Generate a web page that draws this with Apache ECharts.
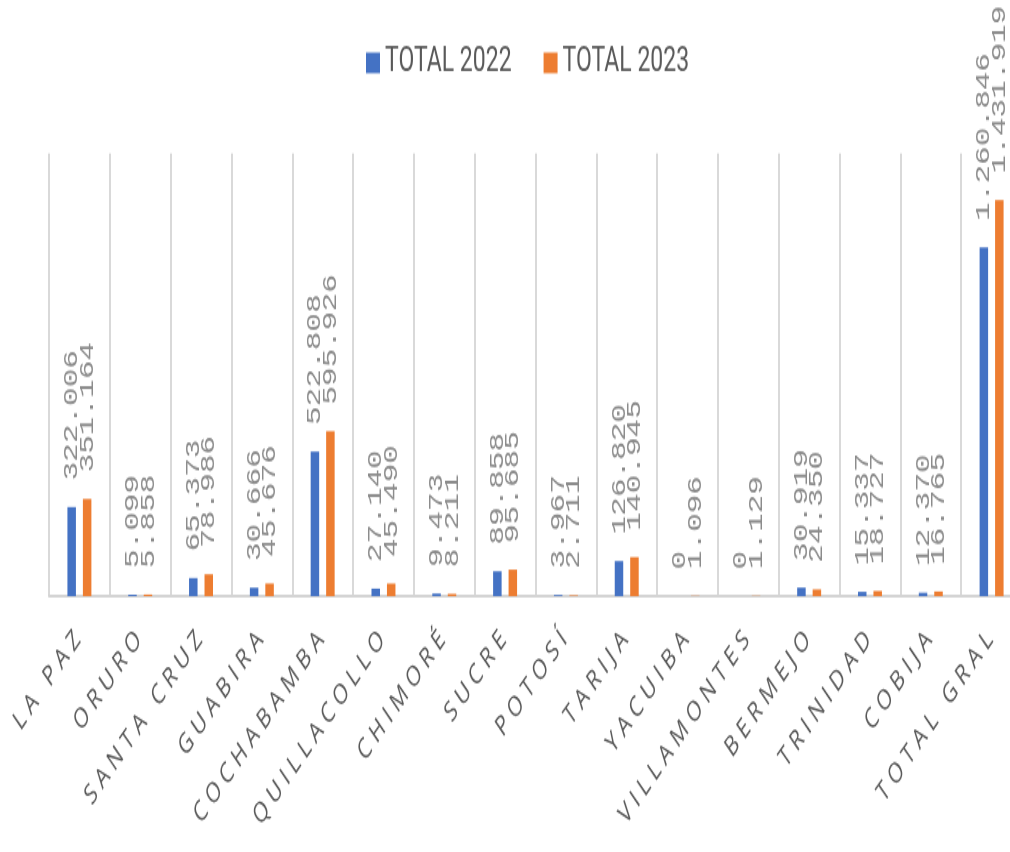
<!DOCTYPE html>
<html>
<head>
<meta charset="utf-8">
<script src="https://cdn.jsdelivr.net/npm/echarts@6/dist/echarts.min.js"></script>
<style>
html { margin: 0; padding: 0; background: #ffffff; overflow: hidden; }
body { margin: 0; padding: 0; background: #ffffff; width: 1010px; height: 852px; }
#c { width: 1010px; height: 576px; transform: scaleY(1.479167); transform-origin: 0 0; }
</style>
</head>
<body>
<div id="c"></div>
<script>
const categories = ['LA PAZ', 'ORURO', 'SANTA CRUZ', 'GUABIRA', 'COCHABAMBA', 'QUILLACOLLO', 'CHIMORÉ', 'SUCRE', 'POTOSÍ', 'TARIJA', 'YACUIBA', 'VILLAMONTES', 'BERMEJO', 'TRINIDAD', 'COBIJA', 'TOTAL GRAL'];
const total2022 = [322006, 5099, 65373, 30666, 522808, 27140, 9473, 89858, 3967, 126820, 0, 0, 30919, 15337, 12370, 1260846];
const total2023 = [351164, 5858, 78986, 45676, 595926, 45490, 8211, 95685, 2711, 140945, 1096, 1129, 24350, 18727, 16765, 1431919];
const seriesNames = ['TOTAL 2022', 'TOTAL 2023'];

function fmt(v) {
  return String(v).replace(/\B(?=(\d{3})+(?!\d))/g, '.');
}
function spaced(s) {
  return s.split('').map(ch => '{c|' + ch + '}').join('');
}

const labelCfg = {
  show: true,
  position: 'top',
  rotate: 90,
  align: 'left',
  verticalAlign: 'middle',
  distance: 18,
  color: '#8c8c8c',
  fontFamily: 'Liberation Mono',
  fontSize: 21,
  formatter: p => fmt(p.value)
};

const chart = echarts.init(document.getElementById('c'));
chart.setOption({
  backgroundColor: '#ffffff',
  animation: false,
  legend: {
    left: 361,
    top: 26,
    itemWidth: 14,
    itemHeight: 14,
    itemGap: 32,
    icon: 'rect',
    textStyle: { fontFamily: 'Roboto', fontSize: 23, color: '#595959' },
    data: seriesNames
  },
  grid: { left: 49, top: 103.8, width: 973, height: 299.2, containLabel: false, outerBoundsMode: 'none' },
  xAxis: {
    type: 'category',
    data: categories,
    axisLine: { show: true, lineStyle: { color: '#d4d4d4', width: 2 } },
    axisTick: { show: false },
    splitLine: { show: true, lineStyle: { color: '#d9d9d9', width: 2 } },
    axisLabel: {
      interval: 0,
      rotate: 45,
      margin: 25,
      color: '#595959',
      hideOverlap: false,
      formatter: v => spaced(v),
      rich: {
        c: { fontFamily: 'Open Sans', fontSize: 19, color: '#595959', padding: [0, 2.5, 0, 2.5] }
      }
    }
  },
  yAxis: {
    type: 'value',
    min: 0,
    max: 1600000,
    show: false,
    splitLine: { show: false }
  },
  series: [
    {
      name: seriesNames[0],
      type: 'bar',
      data: total2022,
      barWidth: 8.5,
      barGap: '82%',
      itemStyle: { color: '#4472C4' },
      label: labelCfg
    },
    {
      name: seriesNames[1],
      type: 'bar',
      data: total2023,
      barWidth: 8.5,
      barGap: '82%',
      itemStyle: { color: '#ED7D31' },
      label: labelCfg
    }
  ]
});
</script>
</body>
</html>
